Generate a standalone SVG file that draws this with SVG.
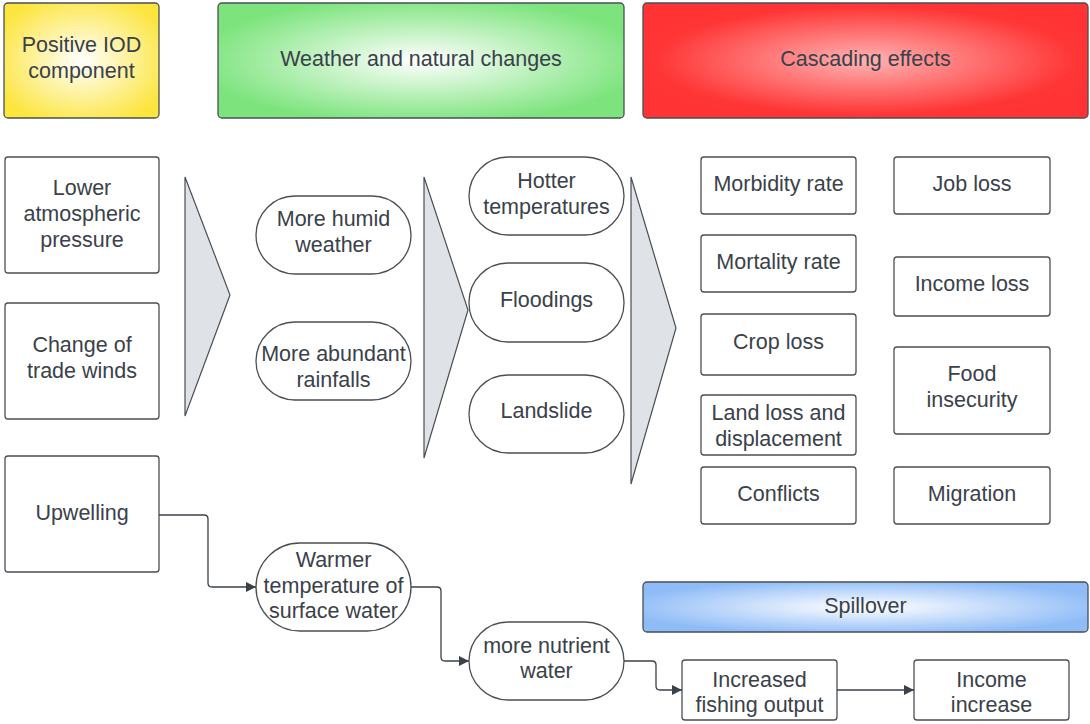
<svg xmlns="http://www.w3.org/2000/svg" width="1090" height="724" viewBox="0 0 1090 724">
<defs>
<radialGradient id="gY" cx="50%" cy="50%" r="60%"><stop offset="0" stop-color="#ffffff"/><stop offset="1" stop-color="#fce53c"/></radialGradient>
<radialGradient id="gG" cx="50%" cy="50%" r="55%"><stop offset="0" stop-color="#ffffff"/><stop offset="1" stop-color="#7de47d"/></radialGradient>
<radialGradient id="gR" cx="50%" cy="50%" r="55%"><stop offset="0" stop-color="#ffb3b3"/><stop offset="0.85" stop-color="#ff3636"/><stop offset="1" stop-color="#ff3333"/></radialGradient>
<radialGradient id="gB" cx="50%" cy="50%" r="55%"><stop offset="0" stop-color="#ffffff"/><stop offset="1" stop-color="#8fbcf7"/></radialGradient>
<marker id="arr" viewBox="0 0 10 10" refX="10" refY="5" markerWidth="10" markerHeight="10" markerUnits="userSpaceOnUse" orient="auto"><path d="M0,0 L10,5 L0,10 z" fill="#3a414a"/></marker>
<style>
.b{fill:#ffffff;stroke:#4a4f55;stroke-width:1.3}
.h{stroke:#4a4f55;stroke-width:1.3}
.t{font-family:"Liberation Sans",Arial,sans-serif;font-size:21.5px;fill:#3a414a;text-anchor:middle}
.tri{fill:#dfe2e7;stroke:#4a4f55;stroke-width:1.2}
.c{fill:none;stroke:#3a414a;stroke-width:1.3}
</style>
</defs>
<rect width="1090" height="724" fill="#ffffff"/>

<g id="hdr-iod"><rect class="h" x="4" y="3" width="155" height="115" rx="4" fill="url(#gY)"/><text class="t" x="81.5" y="52">Positive IOD</text><text class="t" x="81.5" y="78">component</text></g>
<g id="hdr-weather"><rect class="h" x="218" y="3" width="406" height="115" rx="4" fill="url(#gG)"/><text class="t" x="421" y="66">Weather and natural changes</text></g>
<g id="hdr-cascade"><rect class="h" x="643" y="3" width="445" height="115" rx="4" fill="url(#gR)"/><text class="t" x="865.5" y="66">Cascading effects</text></g>

<g id="n-lower"><rect class="b" x="5" y="157" width="154" height="116" rx="3"/><text class="t" x="82" y="195">Lower</text><text class="t" x="82" y="221">atmospheric</text><text class="t" x="82" y="247">pressure</text></g>
<g id="n-trade"><rect class="b" x="5" y="303" width="154" height="116" rx="3"/><text class="t" x="82" y="352">Change of</text><text class="t" x="82" y="378">trade winds</text></g>
<g id="n-upwelling"><rect class="b" x="5" y="456" width="154" height="116" rx="3"/><text class="t" x="82" y="520">Upwelling</text></g>

<g id="tri1"><polygon class="tri" points="185,177 230,295 185,416"/></g>
<g id="tri2"><polygon class="tri" points="424,177 468,310 424,458"/></g>
<g id="tri3"><polygon class="tri" points="631,177 676,328 631,484"/></g>

<g id="n-humid"><rect class="b" x="256" y="196" width="155" height="78" rx="39"/><text class="t" x="333.5" y="226">More humid</text><text class="t" x="333.5" y="252">weather</text></g>
<g id="n-rain"><rect class="b" x="256" y="322" width="155" height="78" rx="39"/><text class="t" x="333.5" y="361">More abundant</text><text class="t" x="333.5" y="387">rainfalls</text></g>

<g id="n-hotter"><rect class="b" x="469" y="157" width="155" height="78" rx="39"/><text class="t" x="546.5" y="188">Hotter</text><text class="t" x="546.5" y="214">temperatures</text></g>
<g id="n-flood"><rect class="b" x="469" y="263" width="155" height="79" rx="39"/><text class="t" x="546.5" y="307">Floodings</text></g>
<g id="n-landslide"><rect class="b" x="469" y="375" width="155" height="78" rx="39"/><text class="t" x="546.5" y="418">Landslide</text></g>

<g id="n-morbidity"><rect class="b" x="701" y="157" width="155" height="57" rx="3"/><text class="t" x="778.5" y="191">Morbidity rate</text></g>
<g id="n-mortality"><rect class="b" x="701" y="235" width="155" height="57" rx="3"/><text class="t" x="778.5" y="269">Mortality rate</text></g>
<g id="n-crop"><rect class="b" x="701" y="314" width="155" height="61" rx="3"/><text class="t" x="778.5" y="349">Crop loss</text></g>
<g id="n-land"><rect class="b" x="701" y="395" width="155" height="60" rx="3"/><text class="t" x="778.5" y="420">Land loss and</text><text class="t" x="778.5" y="446">displacement</text></g>
<g id="n-conflicts"><rect class="b" x="701" y="467" width="155" height="57" rx="3"/><text class="t" x="778.5" y="501">Conflicts</text></g>

<g id="n-job"><rect class="b" x="894" y="157" width="156" height="57" rx="3"/><text class="t" x="972" y="191">Job loss</text></g>
<g id="n-income-loss"><rect class="b" x="894" y="257" width="156" height="59" rx="3"/><text class="t" x="972" y="291">Income loss</text></g>
<g id="n-food"><rect class="b" x="894" y="347" width="156" height="87" rx="3"/><text class="t" x="972" y="381">Food</text><text class="t" x="972" y="407">insecurity</text></g>
<g id="n-migration"><rect class="b" x="894" y="467" width="156" height="57" rx="3"/><text class="t" x="972" y="501">Migration</text></g>

<g id="hdr-spill"><rect class="h" x="643" y="582" width="445" height="50" rx="4" fill="url(#gB)"/><text class="t" x="865.5" y="613">Spillover</text></g>

<g id="n-warmer"><rect class="b" x="256" y="543" width="155" height="88" rx="44"/><text class="t" x="333.5" y="567">Warmer</text><text class="t" x="333.5" y="593">temperature of</text><text class="t" x="333.5" y="618">surface water</text></g>
<g id="n-nutrient"><rect class="b" x="469" y="622" width="155" height="78" rx="39"/><text class="t" x="546.5" y="653">more nutrient</text><text class="t" x="546.5" y="678">water</text></g>
<g id="n-fishing"><rect class="b" x="682" y="660" width="155" height="60" rx="3"/><text class="t" x="759.5" y="687">Increased</text><text class="t" x="759.5" y="712">fishing output</text></g>
<g id="n-income-inc"><rect class="b" x="914" y="660" width="155" height="60" rx="3"/><text class="t" x="991.5" y="687">Income</text><text class="t" x="991.5" y="712">increase</text></g>

<g id="connectors">
<path class="c" d="M159,515 H204 Q208,515 208,519 V583 Q208,587 212,587 H256" marker-end="url(#arr)"/>
<path class="c" d="M411,587 H437 Q441,587 441,591 V657 Q441,661 445,661 H469" marker-end="url(#arr)"/>
<path class="c" d="M624,661 H652 Q656,661 656,665 V686 Q656,690 660,690 H682" marker-end="url(#arr)"/>
<path class="c" d="M837,690 H914" marker-end="url(#arr)"/>
</g>
</svg>
